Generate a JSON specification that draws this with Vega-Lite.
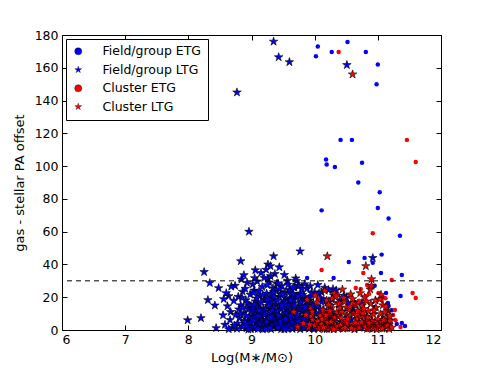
{
"$schema": "https://vega.github.io/schema/vega-lite/v6.json",
"width": 379, "height": 295,
"autosize": {"type": "none"},
"padding": {"left": 62, "top": 35, "right": 50, "bottom": 38},
"background": "white",
"config": {
 "font": "DejaVu Sans",
 "view": {"stroke": "black", "strokeWidth": 1},
 "axis": {"grid": false, "domain": false, "tickColor": "black", "tickSize": 5, "tickWidth": 1, "offset": -5, "labelColor": "black", "labelFontSize": 12.5, "titleFontSize": 13, "titleFontWeight": "normal", "titleColor": "black"},
 "legend": {"orient": "top-left", "offset": 4, "strokeColor": "black", "fillColor": "white", "padding": 6, "rowPadding": 5.5, "labelFontSize": 12.5, "labelColor": "black", "symbolSize": 50, "symbolStrokeColor": "black", "symbolStrokeWidth": 0.4, "labelOffset": 18}
},
"resolve": {"axis": {"x": "independent", "y": "independent"}},
"datasets": {
 "fe": [
   {"mass":10.05,"offset":173},{"mass":10.02,"offset":167},{"mass":10.27,"offset":169.6},{"mass":10.52,"offset":175.7},{"mass":10.81,"offset":169.6},{"mass":11.0,"offset":162},{"mass":10.98,"offset":150},{"mass":10.41,"offset":116},{"mass":10.59,"offset":116},{"mass":10.18,"offset":104},{"mass":10.19,"offset":101},{"mass":10.32,"offset":99.5},{"mass":10.75,"offset":102},{"mass":10.69,"offset":90},{"mass":11.03,"offset":84},{"mass":10.11,"offset":73},{"mass":11.0,"offset":74.5},{"mass":11.17,"offset":68},{"mass":11.35,"offset":57.5},{"mass":10.54,"offset":41.5},{"mass":10.79,"offset":44},{"mass":10.92,"offset":41},{"mass":11.06,"offset":46},{"mass":11.05,"offset":34.8},{"mass":11.38,"offset":33.6},{"mass":10.3,"offset":31.7},{"mass":9.88,"offset":31.7},{"mass":10.87,"offset":25.6},{"mass":11.13,"offset":22.6},{"mass":11.36,"offset":20.7},{"mass":11.16,"offset":16.5},{"mass":11.22,"offset":12},{"mass":11.3,"offset":3.7},{"mass":11.43,"offset":2.4},
   {"mass":10.53,"offset":16.5},{"mass":10.64,"offset":17},{"mass":10.95,"offset":14},{"mass":10.4,"offset":8},{"mass":11.05,"offset":6},{"mass":10.85,"offset":3},{"mass":10.6,"offset":11},{"mass":9.95,"offset":21},{"mass":10.3,"offset":24},{"mass":10.15,"offset":19},{"mass":10.7,"offset":9},{"mass":11.1,"offset":4},{"mass":10.95,"offset":27},{"mass":11.08,"offset":20},{"mass":11.17,"offset":14.6},{"mass":11.38,"offset":4.3},{"mass":10.2,"offset":2.5}
 ],
 "fl": [
   {"mass":9.35,"offset":176},{"mass":9.43,"offset":166.5},{"mass":9.6,"offset":163.5},{"mass":8.77,"offset":145},{"mass":8.96,"offset":60},{"mass":9.77,"offset":48},{"mass":9.35,"offset":45},{"mass":8.83,"offset":42},{"mass":9.26,"offset":40},{"mass":9.3,"offset":39},{"mass":8.25,"offset":35.4},{"mass":9.15,"offset":34.8},{"mass":9.05,"offset":31.7},{"mass":8.34,"offset":28.7},{"mass":8.48,"offset":25.6},{"mass":8.74,"offset":27},{"mass":8.31,"offset":18.3},{"mass":8.64,"offset":20.7},{"mass":8.42,"offset":15},{"mass":8.55,"offset":9},{"mass":7.99,"offset":6},{"mass":8.2,"offset":7.3},{"mass":8.44,"offset":1.2},{"mass":8.67,"offset":11},{"mass":10.51,"offset":161.7},{"mass":10.92,"offset":44},{"mass":9.75,"offset":27},{"mass":10.22,"offset":24.4},{"mass":10.29,"offset":25},{"mass":10.11,"offset":23},{"mass":9.82,"offset":20},{"mass":9.66,"offset":22},
   {"mass":8.58,"offset":3.2},{"mass":8.62,"offset":14.5},{"mass":8.66,"offset":6.1},{"mass":8.7,"offset":1.5},{"mass":8.72,"offset":17.8},{"mass":8.75,"offset":9.4},{"mass":8.78,"offset":4.0},{"mass":8.6,"offset":22.5},{"mass":8.68,"offset":26.5},{"mass":8.8,"offset":12.6},{"mass":8.77,"offset":0.8},{"mass":8.64,"offset":0.5},{"mass":8.73,"offset":2.6},{"mass":8.56,"offset":18.9},{"mass":8.79,"offset":20.3},
   {"mass":8.81,"offset":7.2},{"mass":8.83,"offset":15.1},{"mass":8.85,"offset":2.3},{"mass":8.86,"offset":23.4},{"mass":8.88,"offset":10.5},{"mass":8.9,"offset":5.7},{"mass":8.91,"offset":18.2},{"mass":8.92,"offset":1.1},{"mass":8.93,"offset":28.8},{"mass":8.95,"offset":12.9},{"mass":8.96,"offset":3.8},{"mass":8.97,"offset":8.4},{"mass":8.98,"offset":21.6},{"mass":8.99,"offset":0.6},{"mass":8.84,"offset":30.9},{"mass":8.87,"offset":13.7},{"mass":8.89,"offset":4.9},{"mass":8.94,"offset":16.3},{"mass":8.82,"offset":9.9},{"mass":9.0,"offset":6.6},{"mass":8.86,"offset":1.8},{"mass":8.9,"offset":25.2},{"mass":8.97,"offset":14.8},{"mass":8.93,"offset":2.9},{"mass":8.99,"offset":11.3},{"mass":8.85,"offset":19.6},{"mass":8.91,"offset":8.8},{"mass":8.95,"offset":0.3},{"mass":8.88,"offset":33.5},{"mass":8.98,"offset":4.4},
   {"mass":9.01,"offset":2.1},{"mass":9.02,"offset":13.4},{"mass":9.03,"offset":7.9},{"mass":9.04,"offset":24.1},{"mass":9.05,"offset":0.9},{"mass":9.06,"offset":17.5},{"mass":9.07,"offset":5.2},{"mass":9.08,"offset":10.8},{"mass":9.09,"offset":29.7},{"mass":9.1,"offset":3.5},{"mass":9.11,"offset":15.9},{"mass":9.12,"offset":1.4},{"mass":9.13,"offset":20.8},{"mass":9.14,"offset":8.1},{"mass":9.15,"offset":12.2},{"mass":9.16,"offset":4.7},{"mass":9.17,"offset":26.3},{"mass":9.18,"offset":0.4},{"mass":9.19,"offset":9.6},{"mass":9.2,"offset":18.4},{"mass":9.01,"offset":6.8},{"mass":9.03,"offset":22.7},{"mass":9.05,"offset":11.6},{"mass":9.07,"offset":1.9},{"mass":9.09,"offset":14.3},{"mass":9.11,"offset":3.0},{"mass":9.13,"offset":7.5},{"mass":9.15,"offset":16.9},{"mass":9.17,"offset":2.6},{"mass":9.19,"offset":13.1},{"mass":9.02,"offset":27.9},{"mass":9.04,"offset":5.9},{"mass":9.06,"offset":9.2},{"mass":9.08,"offset":19.3},{"mass":9.1,"offset":0.7},{"mass":9.12,"offset":23.6},{"mass":9.14,"offset":4.1},{"mass":9.16,"offset":10.4},{"mass":9.18,"offset":6.3},{"mass":9.2,"offset":31.8},{"mass":9.06,"offset":36.5},{"mass":9.12,"offset":11.9},{"mass":9.18,"offset":21.3},{"mass":9.04,"offset":15.6},{"mass":9.1,"offset":8.6},
   {"mass":9.21,"offset":3.3},{"mass":9.22,"offset":12.7},{"mass":9.23,"offset":6.2},{"mass":9.24,"offset":22.3},{"mass":9.25,"offset":1.0},{"mass":9.26,"offset":16.4},{"mass":9.27,"offset":8.9},{"mass":9.28,"offset":29.1},{"mass":9.29,"offset":4.5},{"mass":9.3,"offset":13.8},{"mass":9.31,"offset":0.5},{"mass":9.32,"offset":19.7},{"mass":9.33,"offset":7.1},{"mass":9.34,"offset":25.5},{"mass":9.35,"offset":2.8},{"mass":9.36,"offset":10.1},{"mass":9.37,"offset":34.2},{"mass":9.38,"offset":5.4},{"mass":9.39,"offset":15.3},{"mass":9.4,"offset":1.6},{"mass":9.21,"offset":9.3},{"mass":9.23,"offset":18.6},{"mass":9.25,"offset":27.4},{"mass":9.27,"offset":2.2},{"mass":9.29,"offset":11.0},{"mass":9.31,"offset":21.9},{"mass":9.33,"offset":3.9},{"mass":9.35,"offset":14.0},{"mass":9.37,"offset":6.9},{"mass":9.39,"offset":24.0},{"mass":9.22,"offset":0.8},{"mass":9.24,"offset":5.0},{"mass":9.26,"offset":31.2},{"mass":9.28,"offset":10.7},{"mass":9.3,"offset":17.2},{"mass":9.32,"offset":2.5},{"mass":9.34,"offset":8.3},{"mass":9.36,"offset":20.1},{"mass":9.38,"offset":12.3},{"mass":9.4,"offset":28.2},{"mass":9.23,"offset":36.8},{"mass":9.27,"offset":14.7},{"mass":9.31,"offset":7.7},{"mass":9.35,"offset":23.1},{"mass":9.39,"offset":3.6},{"mass":9.25,"offset":19.0},{"mass":9.29,"offset":1.3},{"mass":9.33,"offset":12.0},{"mass":9.37,"offset":16.8},{"mass":9.3,"offset":32.9},
   {"mass":9.41,"offset":4.2},{"mass":9.42,"offset":11.4},{"mass":9.43,"offset":1.7},{"mass":9.44,"offset":20.4},{"mass":9.45,"offset":7.3},{"mass":9.46,"offset":14.9},{"mass":9.47,"offset":0.6},{"mass":9.48,"offset":26.9},{"mass":9.49,"offset":9.0},{"mass":9.5,"offset":3.1},{"mass":9.51,"offset":17.7},{"mass":9.52,"offset":5.5},{"mass":9.53,"offset":22.9},{"mass":9.54,"offset":1.2},{"mass":9.55,"offset":12.5},{"mass":9.56,"offset":7.9},{"mass":9.57,"offset":30.1},{"mass":9.58,"offset":2.4},{"mass":9.59,"offset":15.8},{"mass":9.6,"offset":4.8},{"mass":9.41,"offset":18.1},{"mass":9.43,"offset":8.7},{"mass":9.45,"offset":25.0},{"mass":9.47,"offset":13.2},{"mass":9.49,"offset":2.0},{"mass":9.51,"offset":6.4},{"mass":9.53,"offset":10.3},{"mass":9.55,"offset":19.4},{"mass":9.57,"offset":0.9},{"mass":9.59,"offset":8.2},{"mass":9.42,"offset":28.5},{"mass":9.44,"offset":3.4},{"mass":9.46,"offset":21.7},{"mass":9.48,"offset":6.0},{"mass":9.5,"offset":13.9},{"mass":9.52,"offset":33.6},{"mass":9.54,"offset":16.2},{"mass":9.56,"offset":2.7},{"mass":9.58,"offset":11.8},{"mass":9.6,"offset":24.6},{"mass":9.44,"offset":38.3},{"mass":9.48,"offset":15.1},{"mass":9.52,"offset":0.4},{"mass":9.56,"offset":9.7},{"mass":9.6,"offset":18.8},{"mass":9.46,"offset":5.1},{"mass":9.5,"offset":22.0},{"mass":9.54,"offset":7.0},{"mass":9.58,"offset":27.7},{"mass":9.42,"offset":1.5},
   {"mass":9.61,"offset":2.9},{"mass":9.62,"offset":13.6},{"mass":9.63,"offset":6.7},{"mass":9.64,"offset":21.2},{"mass":9.65,"offset":0.7},{"mass":9.66,"offset":16.0},{"mass":9.67,"offset":9.5},{"mass":9.68,"offset":25.9},{"mass":9.69,"offset":3.7},{"mass":9.7,"offset":11.7},{"mass":9.71,"offset":1.9},{"mass":9.72,"offset":19.9},{"mass":9.73,"offset":5.8},{"mass":9.74,"offset":14.4},{"mass":9.75,"offset":27.0},{"mass":9.76,"offset":8.0},{"mass":9.77,"offset":0.5},{"mass":9.78,"offset":17.3},{"mass":9.79,"offset":4.3},{"mass":9.8,"offset":10.9},{"mass":9.61,"offset":23.8},{"mass":9.63,"offset":12.1},{"mass":9.65,"offset":4.6},{"mass":9.67,"offset":18.5},{"mass":9.69,"offset":7.6},{"mass":9.71,"offset":29.9},{"mass":9.73,"offset":2.1},{"mass":9.75,"offset":13.0},{"mass":9.77,"offset":22.2},{"mass":9.79,"offset":6.5},{"mass":9.62,"offset":8.5},{"mass":9.64,"offset":1.0},{"mass":9.66,"offset":26.1},{"mass":9.68,"offset":14.6},{"mass":9.7,"offset":3.2},{"mass":9.72,"offset":9.1},{"mass":9.74,"offset":20.6},{"mass":9.76,"offset":1.7},{"mass":9.78,"offset":12.8},{"mass":9.8,"offset":24.9},{"mass":9.66,"offset":22.0},{"mass":9.7,"offset":31.5},{"mass":9.74,"offset":5.3},{"mass":9.78,"offset":16.6},{"mass":9.62,"offset":18.2},
   {"mass":9.81,"offset":3.0},{"mass":9.82,"offset":12.4},{"mass":9.83,"offset":7.4},{"mass":9.84,"offset":20.0},{"mass":9.85,"offset":1.3},{"mass":9.86,"offset":15.2},{"mass":9.87,"offset":9.8},{"mass":9.88,"offset":25.3},{"mass":9.89,"offset":4.0},{"mass":9.9,"offset":11.5},{"mass":9.91,"offset":0.8},{"mass":9.92,"offset":18.0},{"mass":9.93,"offset":6.0},{"mass":9.94,"offset":13.5},{"mass":9.95,"offset":22.6},{"mass":9.96,"offset":2.3},{"mass":9.97,"offset":8.7},{"mass":9.98,"offset":16.1},{"mass":9.99,"offset":4.9},{"mass":10.0,"offset":10.2},{"mass":9.81,"offset":21.4},{"mass":9.83,"offset":1.6},{"mass":9.85,"offset":14.1},{"mass":9.87,"offset":5.6},{"mass":9.89,"offset":17.4},{"mass":9.91,"offset":9.4},{"mass":9.93,"offset":26.8},{"mass":9.95,"offset":3.3},{"mass":9.97,"offset":12.9},{"mass":9.99,"offset":0.5},{"mass":9.82,"offset":6.9},{"mass":9.84,"offset":28.0},{"mass":9.86,"offset":3.9},{"mass":9.88,"offset":10.6},{"mass":9.9,"offset":19.1},{"mass":9.92,"offset":2.0},{"mass":9.94,"offset":7.8},{"mass":9.96,"offset":14.8},{"mass":9.98,"offset":1.1},{"mass":10.0,"offset":23.0},
   {"mass":10.02,"offset":5.1},{"mass":10.04,"offset":14.0},{"mass":10.06,"offset":2.5},{"mass":10.08,"offset":19.5},{"mass":10.1,"offset":8.3},{"mass":10.12,"offset":1.2},{"mass":10.14,"offset":11.9},{"mass":10.16,"offset":25.8},{"mass":10.18,"offset":4.4},{"mass":10.2,"offset":16.5},{"mass":10.22,"offset":7.2},{"mass":10.24,"offset":0.9},{"mass":10.26,"offset":13.3},{"mass":10.28,"offset":3.6},{"mass":10.3,"offset":21.1},{"mass":10.03,"offset":9.9},{"mass":10.07,"offset":22.4},{"mass":10.11,"offset":17.0},{"mass":10.15,"offset":6.2},{"mass":10.19,"offset":0.6},{"mass":10.23,"offset":10.4},{"mass":10.27,"offset":18.6},{"mass":10.01,"offset":1.8},{"mass":10.05,"offset":27.5},{"mass":10.09,"offset":12.6},{"mass":10.13,"offset":4.0},{"mass":10.17,"offset":8.9},{"mass":10.21,"offset":2.2},{"mass":10.25,"offset":15.0},{"mass":10.29,"offset":6.8},
   {"mass":10.32,"offset":9.6},{"mass":10.35,"offset":2.7},{"mass":10.38,"offset":15.6},{"mass":10.41,"offset":5.0},{"mass":10.44,"offset":11.2},{"mass":10.47,"offset":1.4},{"mass":10.5,"offset":19.8},{"mass":10.53,"offset":7.5},{"mass":10.56,"offset":3.1},{"mass":10.6,"offset":13.1},{"mass":10.63,"offset":0.8},{"mass":10.66,"offset":9.0},{"mass":10.7,"offset":4.6},{"mass":10.74,"offset":16.4},{"mass":10.78,"offset":2.0},{"mass":10.82,"offset":8.1},{"mass":10.86,"offset":1.0},{"mass":10.34,"offset":24.2},{"mass":10.4,"offset":17.9},{"mass":10.46,"offset":20.9},{"mass":10.52,"offset":4.2},{"mass":10.58,"offset":6.5},{"mass":10.68,"offset":11.3},{"mass":10.9,"offset":5.5},{"mass":10.95,"offset":1.8},{"mass":11.05,"offset":3.5}
 ],
 "ce": [
   {"mass":10.38,"offset":169.6},{"mass":11.46,"offset":116},{"mass":11.6,"offset":102.5},{"mass":10.92,"offset":59},{"mass":10.11,"offset":36.6},{"mass":10.77,"offset":34.8},{"mass":11.22,"offset":30.5},{"mass":10.65,"offset":25.6},{"mass":10.73,"offset":25},{"mass":11.01,"offset":22.6},{"mass":11.55,"offset":22.6},{"mass":11.6,"offset":19.5},{"mass":11.27,"offset":12.2},{"mass":11.36,"offset":1.8},{"mass":11.06,"offset":18.3},{"mass":11.14,"offset":10.4},{"mass":10.86,"offset":22},{"mass":10.83,"offset":27.5},
   {"mass":9.95,"offset":8.5},{"mass":10.05,"offset":19.0},{"mass":10.15,"offset":11.3},{"mass":10.22,"offset":1.0},{"mass":10.28,"offset":13.7},{"mass":10.37,"offset":21.4},{"mass":10.35,"offset":16.5},{"mass":10.45,"offset":5.5},{"mass":10.57,"offset":21.4},{"mass":10.5,"offset":9.8},{"mass":10.62,"offset":2.2},{"mass":10.7,"offset":17.8},{"mass":10.78,"offset":8.6},{"mass":10.81,"offset":20.7},{"mass":10.76,"offset":14},{"mass":10.88,"offset":4.3},{"mass":10.93,"offset":12.5},{"mass":11.0,"offset":1.4},{"mass":11.08,"offset":7.0},{"mass":11.12,"offset":19.4},{"mass":11.18,"offset":3.8},{"mass":11.24,"offset":9.2},{"mass":10.4,"offset":0.8},{"mass":10.85,"offset":0.5},{"mass":11.28,"offset":6.0},{"mass":10.1,"offset":5.5}
 ],
 "cl": [
   {"mass":10.6,"offset":156},{"mass":10.2,"offset":45},{"mass":10.81,"offset":39},{"mass":10.9,"offset":31},{"mass":9.67,"offset":11},{"mass":9.73,"offset":2},
   {"mass":9.82,"offset":4.1},{"mass":9.86,"offset":9.3},{"mass":9.9,"offset":1.5},{"mass":9.94,"offset":13.0},{"mass":9.97,"offset":6.2},{"mass":10.0,"offset":2.8},{"mass":10.03,"offset":16.8},{"mass":10.06,"offset":0.7},{"mass":10.09,"offset":8.8},{"mass":9.88,"offset":18.4},{"mass":9.92,"offset":3.4},{"mass":9.96,"offset":11.1},{"mass":10.01,"offset":21.0},{"mass":10.05,"offset":5.3},{"mass":10.08,"offset":1.9},
   {"mass":10.11,"offset":3.7},{"mass":10.13,"offset":12.2},{"mass":10.15,"offset":0.6},{"mass":10.17,"offset":7.0},{"mass":10.19,"offset":18.0},{"mass":10.21,"offset":2.4},{"mass":10.23,"offset":9.8},{"mass":10.25,"offset":14.7},{"mass":10.27,"offset":1.1},{"mass":10.29,"offset":5.9},{"mass":10.31,"offset":22.3},{"mass":10.33,"offset":3.0},{"mass":10.35,"offset":10.6},{"mass":10.37,"offset":0.9},{"mass":10.39,"offset":16.2},{"mass":10.12,"offset":6.5},{"mass":10.16,"offset":24.0},{"mass":10.2,"offset":4.8},{"mass":10.24,"offset":11.7},{"mass":10.28,"offset":19.2},{"mass":10.32,"offset":7.8},{"mass":10.36,"offset":2.2},{"mass":10.4,"offset":13.4},{"mass":10.14,"offset":1.6},{"mass":10.18,"offset":9.0},{"mass":10.22,"offset":15.5},{"mass":10.26,"offset":5.0},{"mass":10.3,"offset":0.4},{"mass":10.34,"offset":20.6},{"mass":10.38,"offset":8.2},
   {"mass":10.41,"offset":2.9},{"mass":10.43,"offset":11.0},{"mass":10.45,"offset":0.8},{"mass":10.47,"offset":17.1},{"mass":10.49,"offset":5.6},{"mass":10.51,"offset":13.8},{"mass":10.53,"offset":1.7},{"mass":10.55,"offset":8.4},{"mass":10.57,"offset":21.8},{"mass":10.59,"offset":3.5},{"mass":10.61,"offset":10.0},{"mass":10.63,"offset":0.5},{"mass":10.65,"offset":15.3},{"mass":10.67,"offset":6.7},{"mass":10.69,"offset":2.1},{"mass":10.42,"offset":7.3},{"mass":10.46,"offset":19.6},{"mass":10.5,"offset":4.0},{"mass":10.54,"offset":12.4},{"mass":10.58,"offset":1.0},{"mass":10.62,"offset":16.7},{"mass":10.66,"offset":9.2},{"mass":10.7,"offset":3.9},{"mass":10.44,"offset":24.7},{"mass":10.48,"offset":1.3},{"mass":10.52,"offset":6.9},{"mass":10.56,"offset":14.2},{"mass":10.6,"offset":18.9},{"mass":10.64,"offset":4.5},{"mass":10.68,"offset":11.6},
   {"mass":10.71,"offset":1.4},{"mass":10.73,"offset":8.0},{"mass":10.75,"offset":14.8},{"mass":10.77,"offset":3.2},{"mass":10.79,"offset":19.9},{"mass":10.81,"offset":6.0},{"mass":10.83,"offset":0.7},{"mass":10.85,"offset":11.4},{"mass":10.87,"offset":2.6},{"mass":10.89,"offset":16.0},{"mass":10.91,"offset":5.2},{"mass":10.93,"offset":9.5},{"mass":10.95,"offset":1.2},{"mass":10.97,"offset":13.6},{"mass":10.99,"offset":3.8},{"mass":10.72,"offset":22.5},{"mass":10.76,"offset":10.3},{"mass":10.8,"offset":2.0},{"mass":10.84,"offset":7.6},{"mass":10.88,"offset":24.8},{"mass":10.92,"offset":0.9},{"mass":10.96,"offset":18.1},{"mass":11.0,"offset":6.4},{"mass":10.74,"offset":4.7},{"mass":10.78,"offset":12.9},{"mass":10.82,"offset":17.5},{"mass":10.86,"offset":4.2},{"mass":10.9,"offset":27.0},{"mass":10.94,"offset":11.9},{"mass":10.98,"offset":0.4},
   {"mass":11.02,"offset":2.3},{"mass":11.04,"offset":9.7},{"mass":11.06,"offset":4.9},{"mass":11.08,"offset":15.1},{"mass":11.1,"offset":1.0},{"mass":11.12,"offset":7.4},{"mass":11.14,"offset":3.1},{"mass":11.16,"offset":12.0},{"mass":11.18,"offset":0.6},{"mass":11.2,"offset":5.8},{"mass":11.03,"offset":18.7},{"mass":11.07,"offset":0.9},{"mass":11.11,"offset":10.8},{"mass":11.15,"offset":2.7},{"mass":11.19,"offset":8.5},{"mass":11.22,"offset":1.5},{"mass":11.05,"offset":21.5},{"mass":11.13,"offset":14.3},{"mass":11.09,"offset":6.1}
 ]
},
"layer": [
 {
  "data": {"name": "fe"},
  "mark": {"type": "point", "filled": true, "size": 20, "opacity": 1, "strokeWidth": 0},
  "encoding": {
   "x": {"field": "mass", "type": "quantitative", "scale": {"domain": [6, 12], "nice": false, "zero": false}, "axis": {"orient": "bottom", "values": [6,7,8,9,10,11,12], "title": "Log(M∗/M⊙)", "titlePadding": 6, "labelPadding": 3}},
   "y": {"field": "offset", "type": "quantitative", "scale": {"domain": [0, 180], "nice": false, "zero": false}, "axis": {"orient": "left", "values": [0,20,40,60,80,100,120,140,160,180], "title": "gas - stellar PA offset", "titlePadding": 8, "labelPadding": 4}},
   "color": {"datum": "Field/group ETG", "type": "nominal", "scale": {"domain": ["Field/group ETG", "Field/group LTG", "Cluster ETG", "Cluster LTG"], "range": ["#0000ff", "#0000ff", "#ff0000", "#ff0000"]}, "legend": {"title": null}},
   "shape": {"datum": "Field/group ETG", "type": "nominal", "scale": {"domain": ["Field/group ETG", "Field/group LTG", "Cluster ETG", "Cluster LTG"], "range": ["circle", "M0,-1L0.2245,-0.309L0.951,-0.309L0.363,0.118L0.588,0.809L0,0.382L-0.588,0.809L-0.363,0.118L-0.951,-0.309L-0.2245,-0.309Z", "circle", "M0,-1L0.2245,-0.309L0.951,-0.309L0.363,0.118L0.588,0.809L0,0.382L-0.588,0.809L-0.363,0.118L-0.951,-0.309L-0.2245,-0.309Z"]}, "legend": {"title": null}}
  }
 },
 {
  "data": {"name": "fl"},
  "mark": {"type": "point", "filled": true, "size": 80, "opacity": 1, "stroke": "black", "strokeWidth": 0.6},
  "encoding": {
   "x": {"field": "mass", "type": "quantitative", "axis": null},
   "y": {"field": "offset", "type": "quantitative", "axis": null},
   "color": {"datum": "Field/group LTG", "type": "nominal"},
   "shape": {"datum": "Field/group LTG", "type": "nominal"}
  }
 },
 {
  "data": {"name": "ce"},
  "mark": {"type": "point", "filled": true, "size": 20, "opacity": 1, "strokeWidth": 0},
  "encoding": {
   "x": {"field": "mass", "type": "quantitative", "axis": null},
   "y": {"field": "offset", "type": "quantitative", "axis": null},
   "color": {"datum": "Cluster ETG", "type": "nominal"},
   "shape": {"datum": "Cluster ETG", "type": "nominal"}
  }
 },
 {
  "data": {"name": "cl"},
  "mark": {"type": "point", "filled": true, "size": 80, "opacity": 1, "stroke": "black", "strokeWidth": 0.6},
  "encoding": {
   "x": {"field": "mass", "type": "quantitative", "axis": null},
   "y": {"field": "offset", "type": "quantitative", "axis": null},
   "color": {"datum": "Cluster LTG", "type": "nominal"},
   "shape": {"datum": "Cluster LTG", "type": "nominal"}
  }
 },
 {
  "data": {"values": [{"offset": 30}]},
  "mark": {"type": "rule", "color": "black", "strokeDash": [5, 4], "strokeWidth": 1},
  "encoding": {
   "y": {"field": "offset", "type": "quantitative", "axis": {"orient": "right", "values": [0,20,40,60,80,100,120,140,160,180], "labels": false, "title": null}}
  }
 },
 {
  "data": {"values": [{"mass": 6, "offset": 0}]},
  "mark": {"type": "point", "opacity": 0},
  "encoding": {
   "x": {"field": "mass", "type": "quantitative", "axis": {"orient": "top", "values": [6,7,8,9,10,11,12], "labels": false, "title": null}},
   "y": {"field": "offset", "type": "quantitative", "axis": null}
  }
 }
]
}
